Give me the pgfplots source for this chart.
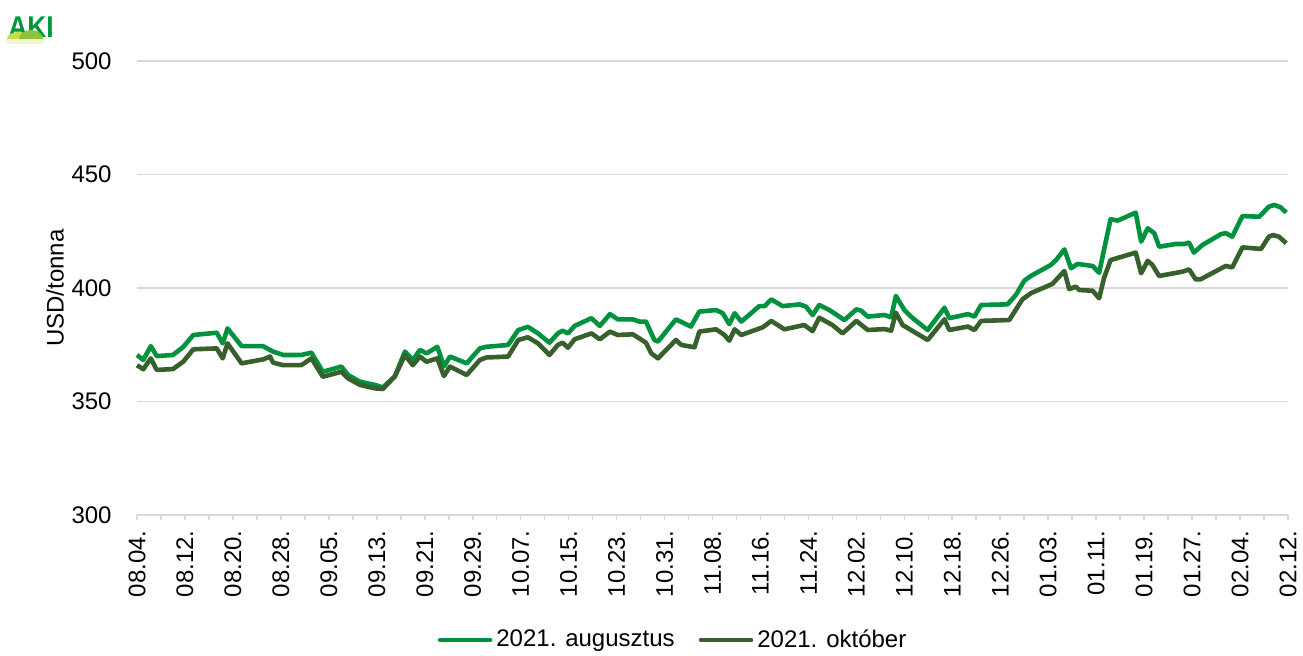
\documentclass[border=0pt]{standalone}
\usepackage{fontspec}
\setmainfont{Liberation Sans}
\usepackage{pgfplots}
\pgfplotsset{compat=1.18}
\definecolor{aug}{RGB}{0,146,63}
\definecolor{okt}{RGB}{55,96,45}
\definecolor{gridc}{RGB}{217,217,217}
\definecolor{logog}{RGB}{0,150,60}
\definecolor{logoy}{RGB}{200,220,70}
\definecolor{logom}{RGB}{140,195,55}
\begin{document}
\begin{tikzpicture}
\useasboundingbox (0,0) rectangle (651.5pt,327.5pt);
% logo
\node[anchor=south west,inner sep=0pt,text=logog,font=\fontsize{15}{15}\bfseries,xscale=0.88] at (4pt,308.5pt) {AKI};
\fill[logoy] (3.5pt,308pt) arc[start angle=180,end angle=0,x radius=5.5pt,y radius=3.5pt] -- cycle;
\fill[logom] (9.5pt,308pt) arc[start angle=180,end angle=0,x radius=6pt,y radius=4.5pt] -- cycle;
\fill[logoy!25] (3.5pt,308pt) rectangle (22pt,305.5pt);
\begin{axis}[
  at={(68.5pt,70pt)}, anchor=south west,
  width=575.5pt, height=227pt, scale only axis,
  xmin=0, xmax=192, ymin=300, ymax=500,
  axis x line*=bottom, axis y line*=left,
  x axis line style={draw=gridc, line width=0.8pt, -},
  y axis line style={draw=none},
  xtick={0,8,...,192},
  xticklabels={08.04.,08.12.,08.20.,08.28.,09.05.,09.13.,09.21.,09.29.,10.07.,10.15.,10.23.,10.31.,11.08.,11.16.,11.24.,12.02.,12.10.,12.18.,12.26.,01.03.,01.11.,01.19.,01.27.,02.04.,02.12.},
  minor xtick={4,12,...,188},
  ytick={300,350,...,500},
  ymajorgrids, major grid style={draw=gridc, line width=0.8pt},
  xtick style={draw=gridc, line width=0.8pt},
  every minor tick/.append style={draw=gridc, line width=0.8pt},
  ytick style={draw=none},
  tick align=outside,
  major tick length=2.5pt, minor tick length=2.5pt,
  /pgf/number format/assume math mode=true,
  ticklabel style={font=\fontsize{12}{14}\selectfont, text=black},
  xticklabel style={yshift=-5pt, rotate=90, anchor=east, inner sep=0pt},
  yticklabel style={anchor=east, inner sep=0pt, xshift=-10pt},
  ylabel={USD/tonna},
  ylabel style={at={(axis description cs:-0.0712,0.5)}, anchor=center, font=\fontsize{12}{14}\selectfont},
  legend style={at={(axis description cs:0.4666,-0.2753)}, anchor=center, draw=none, fill=none,
    legend columns=2, font=\fontsize{12}{14}\selectfont,
    /tikz/every even column/.append style={column sep=10pt}, inner sep=0pt},
  legend image code/.code={\draw[#1, line cap=round] (0pt,0pt) -- (25pt,0pt);},
  every axis plot/.append style={line width=2.3pt, line join=round},
  clip=false,
]
\addplot[color=aug, no markers] coordinates {
(0,370.5) (1.05,368.3) (2.3,374.4) (3.3,370) (6,370.5) (7.7,374) (9.4,379.3) (13.3,380.3) (14.3,375.6) (15.1,382.2) (17.45,374.4) (21,374.4) (22.7,372) (24.4,370.5) (27.4,370.5) (29.1,371.5) (31,363.1) (34.1,365.4) (35.2,361.7) (37.2,358.7) (39.7,357.3) (41,356.2) (43,361) (44.7,372) (46,368.3) (47.2,372.7) (48.3,371.2) (50.1,374.1) (51.2,365.4) (52.2,369.8) (55,366.8) (57.2,373.4) (58.3,374.1) (61.9,374.9) (63.6,381.5) (65.2,382.9) (66.9,380) (68.8,375.9) (70.2,380) (71,381.2) (71.9,380) (73,383.3) (75.8,386.7) (77.2,383.3) (78.9,388.5) (80.2,386.2) (82.7,386.2) (83.8,385.2) (84.9,385.2) (86.3,377.1) (86.9,376.4) (89.9,386.2) (92.4,383) (93.8,389.6) (96.6,390.3) (97.7,388.9) (98.8,384.1) (99.7,388.9) (100.8,385.2) (103.8,392) (104.7,392) (105.8,395) (107.7,392) (110.5,392.8) (111.6,391.8) (112.7,388.1) (113.8,392.5) (115.5,390.3) (118,385.9) (120,390.6) (120.8,390) (121.9,387.4) (124.7,388.1) (125.8,387.1) (126.6,396.5) (128,390.3) (129.4,386.7) (131.9,381.5) (134.7,391.3) (135.5,386.7) (138.6,388.5) (139.7,387.4) (140.8,392.5) (145.2,392.8) (146.6,396.9) (148,403.2) (149.1,405.3) (152.4,410.1) (153.3,412.3) (154.7,417) (155.8,408.7) (156.9,410.6) (159.4,409.7) (160.5,406.7) (161.3,416.7) (162.4,430.3) (163.6,429.7) (166.6,433.2) (167.5,420.4) (168.6,426.3) (169.7,424.1) (170.5,418.2) (173.3,419.4) (174.7,419.4) (175.5,420) (176.3,415.6) (177.7,418.9) (180.8,423.7) (181.6,424.2) (182.7,422.6) (184.4,431.7) (187.2,431.4) (188.8,435.8) (189.7,436.6) (190.8,435.5) (191.7,433.2)
};
\addlegendentry{2021. augusztus}
\addplot[color=okt, no markers] coordinates {
(0,366) (1.05,364.2) (2.3,369) (3.3,363.9) (6,364.3) (7.7,367.5) (9.4,373) (13.3,373.4) (14.3,369) (15.1,375.6) (17.45,366.8) (21.1,368.6) (22.2,369.8) (22.7,367.1) (24.4,366) (27.4,366) (29.1,369) (31,360.9) (34.1,363.1) (35.2,360.2) (37.2,357.3) (39.7,355.8) (41,355.5) (43,361) (44.7,370.5) (46,366) (47.2,369.8) (48.3,367.5) (50.1,369) (51.2,361.2) (52.2,365.4) (55,361.7) (57.2,368.3) (58.3,369.4) (61.9,369.8) (63.6,377.1) (65.2,378.3) (66.9,375.6) (68.8,370.5) (70.2,374.9) (71,375.9) (71.9,373.7) (73,377.4) (75.8,380) (77.2,377.4) (78.9,380.8) (80.2,379.3) (82.7,379.6) (83.8,377.8) (84.9,375.9) (85.8,371.2) (86.9,369) (89.9,377.1) (90.8,374.9) (93,373.9) (93.8,380.8) (96.6,381.8) (98,379.3) (98.8,376.8) (99.7,381.8) (100.8,379.3) (104.4,382.7) (105.8,385.5) (108,381.8) (111.3,383.7) (112.7,381) (113.8,386.9) (116,383.7) (117.7,380) (120,385.5) (121.9,381.5) (124.7,381.9) (125.8,381.2) (126.6,389.1) (127.7,383.7) (131.9,377.1) (134.7,386.2) (135.5,381.5) (138.6,383) (139.7,381.5) (140.8,385.5) (145.5,385.9) (147.7,395) (149.1,397.7) (152.7,401.8) (154.7,407.5) (155.5,399.5) (156.6,400.6) (157.2,399.1) (159.4,398.8) (160.5,395.5) (161.3,404.3) (162.4,412.3) (166.6,415.6) (167.5,406.5) (168.6,412) (169.4,410.1) (170.5,405.3) (174.4,407.2) (175.5,408.2) (176.6,403.8) (177.4,403.8) (181.6,409.7) (182.7,409.1) (184.4,417.9) (187.5,417.2) (188.8,422.6) (189.5,423.3) (190.5,422.6) (191.7,419.7)
};
\addlegendentry{2021. október}
\end{axis}
\end{tikzpicture}
\end{document}
